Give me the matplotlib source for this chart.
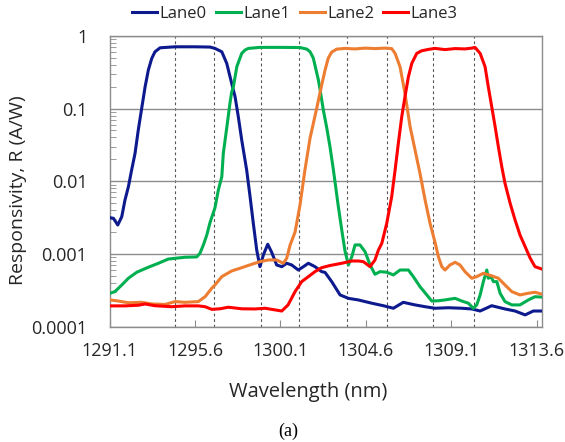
import numpy as np
import matplotlib
matplotlib.use("Agg")
import matplotlib.pyplot as plt
from matplotlib.ticker import LogLocator, NullFormatter, FixedLocator

# ---- data ----
wl_lane0 = [1291.12, 1291.30, 1291.53, 1291.74, 1291.91, 1292.09, 1292.26, 1292.44, 1292.61, 1292.79,
            1292.97, 1293.14, 1293.32, 1293.49, 1293.76, 1294.55, 1295.60, 1296.39, 1296.65, 1297.01,
            1297.27, 1297.53, 1297.71, 1297.88, 1298.06, 1298.32, 1298.50, 1298.67, 1298.85, 1299.02,
            1299.20, 1299.43, 1299.64, 1299.90, 1300.17, 1300.43, 1300.69, 1301.04, 1301.31, 1301.57,
            1301.92, 1302.27, 1302.45, 1302.80, 1303.24, 1303.68, 1304.20, 1304.91, 1305.52, 1306.05,
            1306.57, 1307.19, 1307.72, 1308.24, 1308.95, 1309.65, 1310.18, 1310.62, 1311.23, 1311.93,
            1312.46, 1312.99, 1313.42, 1313.87]
r_lane0 = [0.00315, 0.00309, 0.00250, 0.00325, 0.00552, 0.0084, 0.01426, 0.0242, 0.0506, 0.1005,
           0.199, 0.338, 0.489, 0.603, 0.684, 0.706, 0.706, 0.70, 0.671, 0.603,
           0.418, 0.222, 0.145, 0.0771, 0.0368, 0.01426, 0.00612, 0.00264, 0.00113, 0.000668,
           0.000968, 0.00136, 0.00105, 0.000705, 0.000668, 0.000744, 0.000705, 0.000601, 0.000668, 0.000744,
           0.000668, 0.000571, 0.000557, 0.000416, 0.000273, 0.000245, 0.000233, 0.000210, 0.000194, 0.000179,
           0.000216, 0.000199, 0.000188, 0.000179, 0.000182, 0.000179, 0.000175, 0.000164, 0.000194, 0.000175,
           0.000164, 0.000145, 0.000164, 0.000164]

wl_lane1 = [1291.12, 1291.38, 1291.74, 1292.09, 1292.53, 1293.14, 1293.67, 1294.19, 1294.55, 1295.07,
            1295.69, 1295.86, 1296.04, 1296.22, 1296.39, 1296.65, 1296.83, 1297.01, 1297.09, 1297.27,
            1297.44, 1297.53, 1297.62, 1297.80, 1298.06, 1298.23, 1298.41, 1299.02, 1300.08, 1301.13,
            1301.49, 1301.66, 1301.83, 1302.10, 1302.19, 1302.36, 1302.54, 1302.71, 1302.89, 1303.15,
            1303.33, 1303.50, 1303.68, 1303.86, 1304.03, 1304.29, 1304.56, 1304.82, 1305.08, 1305.35,
            1305.70, 1306.05, 1306.40, 1306.84, 1307.10, 1307.45, 1307.81, 1308.07, 1308.42, 1308.77,
            1309.30, 1309.65, 1310.00, 1310.26, 1310.44, 1310.62, 1310.79, 1310.97, 1311.05, 1311.19,
            1311.32, 1311.50, 1311.67, 1311.93, 1312.29, 1312.72, 1313.16, 1313.51, 1313.87]
r_lane1 = [0.000288, 0.000303, 0.000374, 0.000463, 0.00056, 0.000656, 0.000744, 0.00085, 0.000871, 0.0009,
           0.00091, 0.00102, 0.00133, 0.00182, 0.0027, 0.0043, 0.0076, 0.01153, 0.0242, 0.054,
           0.118, 0.168, 0.199, 0.375, 0.573, 0.636, 0.671, 0.693, 0.693, 0.69,
           0.656, 0.603, 0.494, 0.246, 0.18, 0.095, 0.054, 0.0298, 0.01426, 0.00446,
           0.00213, 0.00110, 0.000705, 0.000917, 0.00133, 0.00133, 0.00107, 0.000705, 0.000525, 0.000571,
           0.00056, 0.000514, 0.000601, 0.000601, 0.000487, 0.000355, 0.000273, 0.000225, 0.000227, 0.000233,
           0.000245, 0.000225, 0.00021, 0.000179, 0.000199, 0.000273, 0.000416, 0.000601, 0.000463, 0.000487,
           0.000416, 0.000416, 0.000288, 0.000221, 0.000199, 0.000199, 0.000233, 0.000258, 0.000255]

wl_lane2 = [1291.12, 1291.56, 1292.09, 1292.79, 1293.32, 1294.02, 1294.55, 1295.07, 1295.77, 1296.13,
            1296.48, 1296.65, 1297.01, 1297.53, 1298.06, 1298.59, 1299.02, 1299.46, 1299.90, 1300.25,
            1300.43, 1300.61, 1300.87, 1301.13, 1301.39, 1301.66, 1302.01, 1302.19, 1302.45, 1302.62,
            1302.80, 1303.07, 1303.50, 1304.03, 1304.56, 1305.08, 1305.61, 1305.96, 1306.14, 1306.40,
            1306.66, 1306.93, 1307.19, 1307.45, 1307.72, 1307.98, 1308.24, 1308.42, 1308.60, 1308.77,
            1309.03, 1309.30, 1309.56, 1309.82, 1310.18, 1310.44, 1310.79, 1311.23, 1311.58, 1311.93,
            1312.29, 1312.72, 1313.16, 1313.51, 1313.87]
r_lane2 = [0.000233, 0.000225, 0.000213, 0.000216, 0.000205, 0.000202, 0.000221, 0.000216, 0.000221, 0.000258,
           0.000337, 0.000374, 0.000487, 0.000583, 0.000647, 0.000721, 0.000782, 0.000826, 0.000826, 0.000744,
           0.000871, 0.00133, 0.0020, 0.00471, 0.01426, 0.0393, 0.1005, 0.168, 0.338, 0.494,
           0.597, 0.656, 0.671, 0.66, 0.677, 0.667, 0.677, 0.667, 0.573, 0.375,
           0.162, 0.0561, 0.0269, 0.01285, 0.00552, 0.00264, 0.00146, 0.000917, 0.000668, 0.000601,
           0.000705, 0.000767, 0.000705, 0.000571, 0.000463, 0.000487, 0.000542, 0.0005, 0.000463, 0.000374,
           0.000303, 0.000273, 0.000288, 0.000297, 0.00028]

wl_lane3 = [1291.12, 1291.91, 1292.61, 1292.97, 1293.49, 1294.37, 1295.07, 1295.77, 1296.13, 1296.48,
            1296.92, 1297.35, 1298.06, 1298.76, 1299.29, 1299.81, 1300.17, 1300.50, 1300.87, 1301.22,
            1301.57, 1301.92, 1302.27, 1302.71, 1303.33, 1303.86, 1304.20, 1304.47, 1304.82, 1305.08,
            1305.26, 1305.44, 1305.70, 1305.96, 1306.14, 1306.31, 1306.49, 1306.66, 1306.84, 1307.02,
            1307.28, 1307.54, 1307.89, 1308.24, 1308.77, 1309.30, 1309.82, 1310.18, 1310.35, 1310.62,
            1310.88, 1311.05, 1311.23, 1311.41, 1311.58, 1311.76, 1311.93, 1312.20, 1312.46, 1312.72,
            1312.99, 1313.25, 1313.51, 1313.87]
r_lane3 = [0.000193, 0.000193, 0.000197, 0.000205, 0.000194, 0.000188, 0.000193, 0.000193, 0.000188, 0.000173,
           0.000176, 0.000185, 0.000176, 0.000175, 0.000179, 0.00017, 0.000164, 0.000199, 0.000303, 0.000416,
           0.000487, 0.000571, 0.000647, 0.000693, 0.000744, 0.0008, 0.0008, 0.000782, 0.000668, 0.000826,
           0.00113, 0.0014, 0.00264, 0.00612, 0.01426, 0.0332, 0.0771, 0.145, 0.273, 0.418,
           0.573, 0.622, 0.650, 0.671, 0.646, 0.667, 0.66, 0.677, 0.693, 0.573,
           0.375, 0.199, 0.106, 0.0561, 0.0298, 0.0158, 0.00936, 0.00497, 0.00293, 0.00182,
           0.00126, 0.00088, 0.000668, 0.00062]

lanes = ["Lane0", "Lane1", "Lane2", "Lane3"]
colors = ["#0d1a8e", "#00b050", "#ed7d31", "#ff0000"]
# LAN-WDM passband edges (dashed markers)
band_edges = [1294.55, 1296.60, 1299.05, 1301.10, 1303.60, 1305.70, 1308.15, 1310.30]
xticks = [1291.1, 1295.6, 1300.1, 1304.6, 1309.1, 1313.6]

plt.rcParams['font.family'] = ['Open Sans', 'DejaVu Sans']

fig = plt.figure(figsize=(5.65, 4.42), dpi=100)
ax = fig.add_axes([0.194, 0.261, 0.765, 0.658])

for xv in band_edges:
    ax.axvline(xv, color="#555555", lw=0.8, ls=(0, (2.5, 2.5)), zorder=1)

series = [(wl_lane0, r_lane0), (wl_lane1, r_lane1), (wl_lane2, r_lane2), (wl_lane3, r_lane3)]
for (wl, r), name, c in zip(series, lanes, colors):
    ax.plot(wl, r, color=c, lw=2.2, label=name, zorder=3)

ax.set_yscale("log")
ax.set_ylim(1e-4, 1)
ax.set_xlim(1291.1, 1313.87)
ax.set_yticks([1e-4, 1e-3, 1e-2, 1e-1, 1])
ax.set_yticklabels(["0.0001", "0.001", "0.01", "0.1", "1"])
ax.yaxis.set_minor_locator(LogLocator(base=10, subs=np.arange(2, 10)))
ax.yaxis.set_minor_formatter(NullFormatter())
ax.xaxis.set_major_locator(FixedLocator(xticks))
ax.set_xticklabels([f"{v:.1f}" for v in xticks])

ax.grid(axis="y", which="major", color="#8c8c8c", lw=1.0, zorder=0)
ax.tick_params(axis="both", which="major", direction="in", length=5, color="#8c8c8c",
               labelsize=13, labelcolor="#262626")
ax.tick_params(axis="x", which="major", pad=11)
ax.tick_params(axis="y", which="minor", direction="in", length=4, color="#8c8c8c")
ax.tick_params(axis="y", which="major", length=0, pad=16)
for s in ax.spines.values():
    s.set_color("#8c8c8c")
    s.set_linewidth(1.0)

ax.set_xlabel("Wavelength (nm)", fontsize=14.5, color="#262626")
ax.xaxis.set_label_coords(0.459, -0.19)
ax.set_ylabel("Responsivity, R (A/W)", fontsize=14, color="#262626")
ax.yaxis.set_label_coords(-0.19, 0.47)

fig.legend(loc="center", bbox_to_anchor=(0.522, 0.968), ncol=4, frameon=False,
           fontsize=12, handlelength=1.5, handletextpad=0.15, columnspacing=0.55,
           labelcolor="#262626")

fig.text(0.51, 0.024, "(a)", family="Liberation Serif", fontsize=13, ha="center", va="center")

fig.savefig("out.png", dpi=100)
